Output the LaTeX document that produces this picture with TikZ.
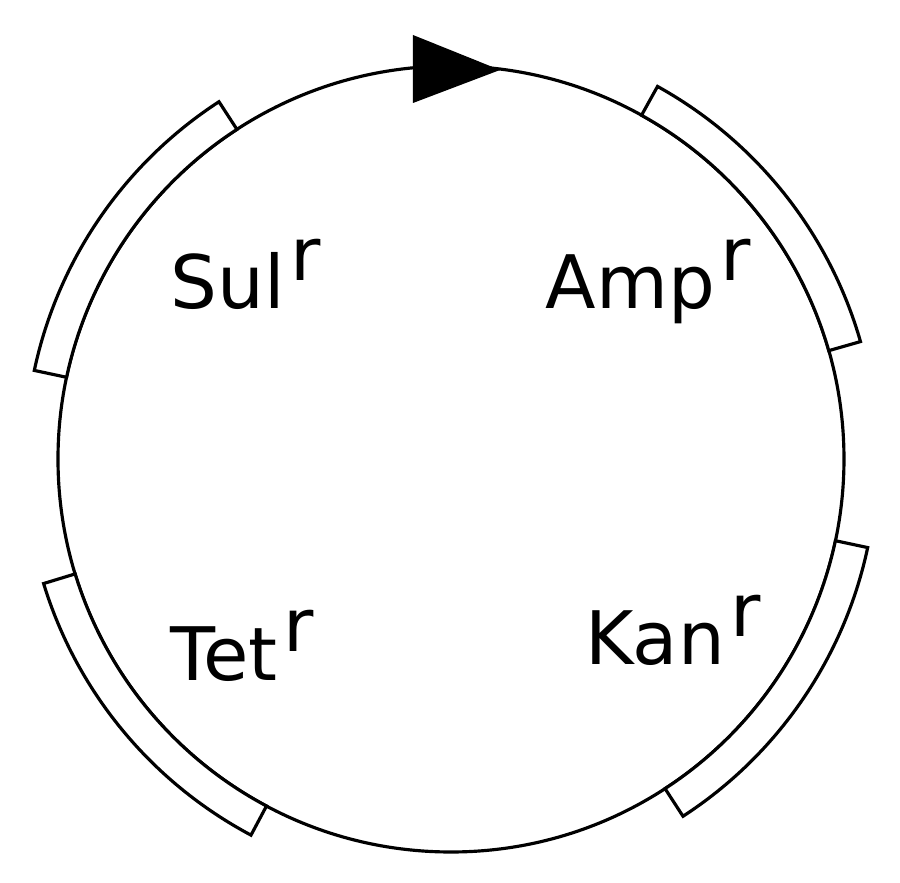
\documentclass[tikz,border=0pt]{standalone}
\usepackage{fontspec}
\setmainfont{DejaVu Sans}
\newcommand{\resist}[1]{#1\kern.08em\raisebox{.38em}{r}}
\begin{document}
\begin{tikzpicture}[gene/.style={draw,fill=white,line width=.9pt},lbl/.style={anchor=base west,inner sep=0pt,font=\fontsize{21}{25}\selectfont}]
		\useasboundingbox (-4.51,-4.24) rectangle (4.49,4.59);
		\draw[line width=.9pt] (0,0) circle[radius=3.93];
		\draw[gene] (123:3.93) arc[start angle=123, end angle=168, radius=3.93] -- (168:4.26) arc[start angle=168, end angle=123, radius=4.26] -- cycle;
		\draw[gene] (16:3.93) arc[start angle=16, end angle=61, radius=3.93] -- (61:4.26) arc[start angle=61, end angle=16, radius=4.26] -- cycle;
		\draw[gene] (197:3.93) arc[start angle=197, end angle=242, radius=3.93] -- (242:4.26) arc[start angle=242, end angle=197, radius=4.26] -- cycle;
		\draw[gene] (303:3.93) arc[start angle=303, end angle=348, radius=3.93] -- (348:4.26) arc[start angle=348, end angle=303, radius=4.26] -- cycle;
		\fill (-0.38,4.24) -- (0.49,3.89) -- (-0.38,3.56) -- cycle;
		\node[lbl] (sul) at (-2.81,1.5) {\resist{Sul}};
		\node[lbl] (amp) at (0.94,1.5) {\resist{Amp}};
		\node[lbl] (tet) at (-2.81,-2.21) {\resist{Tet}};
		\node[lbl] (kan) at (1.34,-2.06) {\resist{Kan}};
	\end{tikzpicture}
\end{document}
